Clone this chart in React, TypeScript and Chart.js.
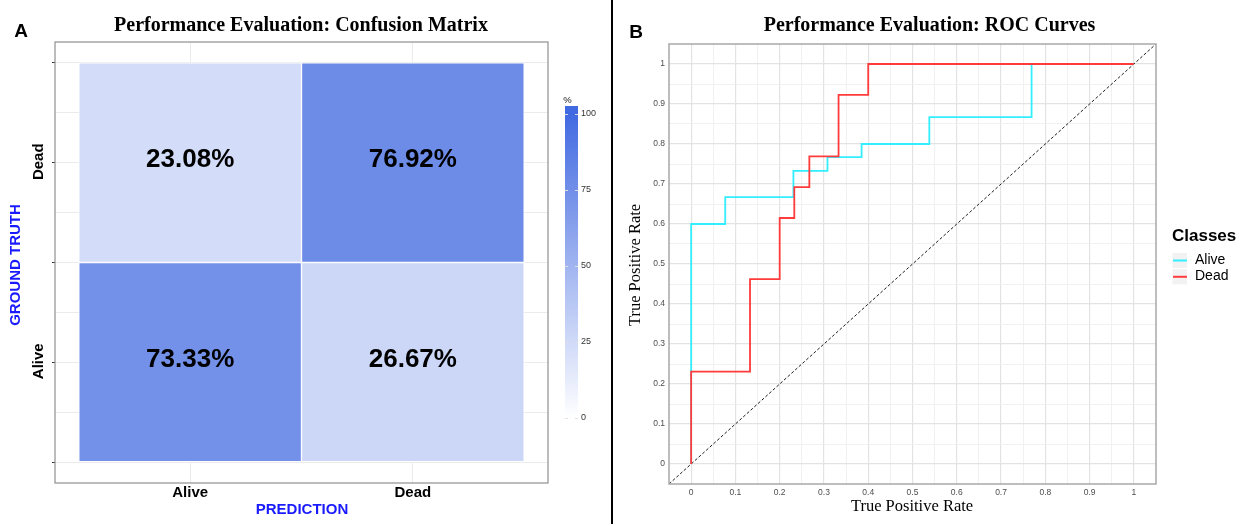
import React, { useEffect, useRef } from 'react';
import { Chart, registerables } from 'chart.js';

Chart.register(...registerables);

const SANS = '"Liberation Sans", Arial, Helvetica, sans-serif';
const SERIF = '"Liberation Serif", "Times New Roman", serif';

// ---------- Panel A: confusion matrix (row percentages) ----------
const predLabels = ['Alive', 'Dead'];
const truthLabels = ['Alive', 'Dead'];
const aliveRowPct = [73.33, 26.67];
const deadRowPct = [23.08, 76.92];
const colorbarTicks = [0, 25, 50, 75, 100];
const colorbarRange = [-1.3, 102.5];

// ---------- Panel B: ROC curves ----------
const classNames = ['Alive', 'Dead'];
const aliveFPR = [0, 0, 0.077, 0.231, 0.308, 0.385, 0.538, 0.769, 1];
const aliveTPR = [0, 0.6, 0.667, 0.733, 0.767, 0.8, 0.867, 1, 1];
const deadFPR = [0, 0, 0.133, 0.2, 0.233, 0.267, 0.333, 0.4, 1];
const deadTPR = [0, 0.231, 0.462, 0.615, 0.692, 0.769, 0.923, 1, 1];
const diagX = [-0.05, 1.05];
const diagY = [-0.05, 1.05];
const rocTicks = [0, 0.1, 0.2, 0.3, 0.4, 0.5, 0.6, 0.7, 0.8, 0.9, 1];

const LOW = [255, 255, 255];
const HIGH = [65, 105, 225];
const fillFor = (pct: number) => {
  const t = Math.max(0, Math.min(1, pct / 100));
  const c = LOW.map((l, k) => Math.round(l + (HIGH[k] - l) * t));
  return `rgb(${c.join(',')})`;
};

type TextItem = {
  text: string;
  x: number;
  y: number;
  font: string;
  color?: string;
  rot?: number;
  align?: CanvasTextAlign;
  baseline?: CanvasTextBaseline;
};

const drawTexts = (ctx: CanvasRenderingContext2D, items: TextItem[]) => {
  for (const t of items) {
    ctx.save();
    ctx.translate(t.x, t.y);
    if (t.rot) ctx.rotate(t.rot);
    ctx.font = t.font;
    ctx.fillStyle = t.color || '#000';
    ctx.textAlign = t.align || 'center';
    ctx.textBaseline = t.baseline || 'middle';
    ctx.fillText(t.text, 0, 0);
    ctx.restore();
  }
};

const approx = (a: number, b: number) => Math.abs(a - b) < 1e-6;
const isHalf = (v: number) => approx(v * 2, Math.round(v * 2));
const isMajorRoc = (v: number) => rocTicks.some((t) => approx(t, v));
const rocGrid = (() => {
  const g: number[] = [];
  rocTicks.forEach((t, i) => {
    g.push(t);
    if (i < rocTicks.length - 1) g.push((t + rocTicks[i + 1]) / 2);
  });
  return g;
})();
const matrixGrid = [0, 0.25, 0.5, 0.75, 1, 1.25, 1.5, 1.75, 2];

export default function App() {
  const cmRef = useRef<HTMLCanvasElement>(null);
  const cbRef = useRef<HTMLCanvasElement>(null);
  const rocRef = useRef<HTMLCanvasElement>(null);

  useEffect(() => {
    const charts: Chart[] = [];

    // ---------------- Confusion matrix ----------------
    const rows = [aliveRowPct, deadRowPct];
    const cmPlugin = {
      id: 'cmDecor',
      afterDatasetsDraw(chart: any) {
        const ctx = chart.ctx as CanvasRenderingContext2D;
        chart.data.datasets.forEach((ds: any, i: number) => {
          const meta = chart.getDatasetMeta(i);
          meta.data.forEach((el: any, j: number) => {
            const p = el.getProps(['x', 'y', 'base'], true);
            const v = ds.data[j].v as number;
            drawTexts(ctx, [
              {
                text: v.toFixed(2) + '%',
                x: p.x,
                y: (p.y + p.base) / 2 - 2.5,
                font: `bold 26px ${SANS}`,
              },
            ]);
          });
        });
        const a = chart.chartArea;
        ctx.save();
        ctx.strokeStyle = '#8f8f8f';
        ctx.lineWidth = 1.2;
        ctx.strokeRect(a.left, a.top, a.right - a.left, a.bottom - a.top);
        ctx.restore();
      },
      afterDraw(chart: any) {
        const ctx = chart.ctx as CanvasRenderingContext2D;
        const ys = chart.scales.y;
        const items: TextItem[] = [
          { text: 'A', x: 21, y: 31.5, font: `bold 19px ${SANS}` },
          {
            text: 'Performance Evaluation: Confusion Matrix',
            x: 301,
            y: 31,
            font: `bold 20px ${SERIF}`,
            baseline: 'alphabetic',
          },
          { text: 'PREDICTION', x: 302, y: 509.5, font: `bold 15px ${SANS}`, color: '#1a1aff' },
          {
            text: 'GROUND TRUTH',
            x: 15.5,
            y: 265,
            rot: -Math.PI / 2,
            font: `bold 15px ${SANS}`,
            color: '#1a1aff',
          },
        ];
        truthLabels.forEach((lab, i) => {
          items.push({
            text: lab,
            x: 39,
            y: ys.getPixelForValue(i + 0.5) - 1,
            rot: -Math.PI / 2,
            font: `bold 15px ${SANS}`,
          });
        });
        drawTexts(ctx, items);
      },
    };

    charts.push(
      new Chart(cmRef.current as HTMLCanvasElement, {
        type: 'bar',
        data: {
          datasets: rows.map((row, i) => ({
            label: truthLabels[i],
            data: row.map((v, j) => ({ x: j + 0.5, y: [i, i + 1], v })),
            backgroundColor: row.map(fillFor),
            borderColor: '#ffffff',
            borderWidth: 1,
            borderSkipped: false,
            barPercentage: 1,
            categoryPercentage: 1,
          })) as any,
        },
        options: {
          animation: false,
          responsive: false,
          layout: { padding: { top: 42, left: 0, right: 12, bottom: 0 } },
          plugins: {
            legend: { display: false },
            tooltip: { enabled: false },
            title: { display: false },
          },
          scales: {
            x: {
              type: 'linear',
              min: -0.107,
              max: 2.107,
              offset: false,
              stacked: true,
              afterBuildTicks: (s: any) => {
                s.ticks = predLabels.map((_, j) => ({ value: j + 0.5 }));
              },
              afterFit: (s: any) => {
                s.height = 41;
              },
              ticks: {
                autoSkip: false,
                maxRotation: 0,
                padding: 1,
                color: '#000',
                font: { family: SANS, size: 15, weight: 'bold' },
                callback: (_v: any, i: number) => predLabels[i],
              },
              grid: { color: '#ebebeb', drawTicks: false, offset: false },
              border: { display: false },
            } as any,
            y: {
              type: 'linear',
              min: -0.105,
              max: 2.105,
              stacked: false,
              afterBuildTicks: (s: any) => {
                s.ticks = matrixGrid.map((v) => ({ value: v }));
              },
              afterFit: (s: any) => {
                s.width = 55;
              },
              ticks: { display: false },
              grid: {
                color: '#ebebeb',
                tickLength: 3,
                tickColor: (c: any) => (c.tick && isHalf(c.tick.value) ? '#333333' : 'rgba(0,0,0,0)'),
              },
              border: { display: false },
            } as any,
          },
        },
        plugins: [cmPlugin],
      })
    );

    // ---------------- Colorbar ----------------
    const cbPlugin = {
      id: 'cbDecor',
      afterDatasetsDraw(chart: any) {
        const ctx = chart.ctx as CanvasRenderingContext2D;
        const a = chart.chartArea;
        const ys = chart.scales.y;
        ctx.save();
        ctx.strokeStyle = 'rgba(225,225,225,0.95)';
        ctx.lineWidth = 1;
        colorbarTicks.forEach((t) => {
          const y = Math.round(ys.getPixelForValue(t)) + 0.5;
          ctx.beginPath();
          ctx.moveTo(a.left, y);
          ctx.lineTo(a.left + 3, y);
          ctx.moveTo(a.right - 3, y);
          ctx.lineTo(a.right, y);
          ctx.stroke();
        });
        ctx.restore();
        drawTexts(ctx, [{ text: '%', x: a.left + 2.5, y: a.top - 6, font: `9.5px ${SANS}`, color: '#222' }]);
      },
    };

    charts.push(
      new Chart(cbRef.current as HTMLCanvasElement, {
        type: 'bar',
        data: {
          labels: ['%'],
          datasets: [
            {
              data: [colorbarRange] as any,
              backgroundColor: (c: any) => {
                const chart = c.chart;
                const ys = chart.scales && chart.scales.y;
                if (!ys || !chart.chartArea) return fillFor(100);
                const g = chart.ctx.createLinearGradient(
                  0,
                  ys.getPixelForValue(colorbarTicks[0]),
                  0,
                  ys.getPixelForValue(colorbarTicks[colorbarTicks.length - 1])
                );
                g.addColorStop(0, fillFor(colorbarTicks[0]));
                g.addColorStop(1, fillFor(colorbarTicks[colorbarTicks.length - 1]));
                return g;
              },
              borderWidth: 0,
              barPercentage: 1,
              categoryPercentage: 1,
            },
          ],
        },
        options: {
          animation: false,
          responsive: false,
          layout: { padding: { top: 16, left: 15, right: 0, bottom: 8 } },
          plugins: { legend: { display: false }, tooltip: { enabled: false } },
          scales: {
            x: { display: false },
            y: {
              type: 'linear',
              position: 'right',
              min: colorbarRange[0],
              max: colorbarRange[1],
              afterBuildTicks: (s: any) => {
                s.ticks = colorbarTicks.map((v) => ({ value: v }));
              },
              afterFit: (s: any) => {
                s.width = 32;
              },
              ticks: {
                padding: 3,
                color: '#333',
                font: { family: SANS, size: 9 },
                callback: (v: any) => String(v),
              },
              grid: { drawOnChartArea: false, drawTicks: false },
              border: { display: false },
            } as any,
          },
        },
        plugins: [cbPlugin],
      })
    );

    // ---------------- ROC curves ----------------
    const rocSeries = [
      { name: classNames[0], fpr: aliveFPR, tpr: aliveTPR, color: '#33eeff', order: 1 },
      { name: classNames[1], fpr: deadFPR, tpr: deadTPR, color: '#ff3b3b', order: 0 },
    ];

    const rocPlugin = {
      id: 'rocDecor',
      afterDatasetsDraw(chart: any) {
        const ctx = chart.ctx as CanvasRenderingContext2D;
        const a = chart.chartArea;
        ctx.save();
        ctx.strokeStyle = '#a8a8a8';
        ctx.lineWidth = 1.5;
        ctx.strokeRect(a.left, a.top, a.right - a.left, a.bottom - a.top);
        ctx.restore();
      },
      afterDraw(chart: any) {
        const ctx = chart.ctx as CanvasRenderingContext2D;
        const items: TextItem[] = [
          { text: 'B', x: 22, y: 32.5, font: `bold 19px ${SANS}` },
          {
            text: 'Performance Evaluation: ROC Curves',
            x: 315.5,
            y: 31,
            font: `bold 20px ${SERIF}`,
            baseline: 'alphabetic',
          },
          { text: 'True Positive Rate', x: 298, y: 510.5, font: `16.5px ${SERIF}`, baseline: 'alphabetic' },
          {
            text: 'True Positive Rate',
            x: 26,
            y: 265,
            rot: -Math.PI / 2,
            font: `16.5px ${SERIF}`,
            baseline: 'alphabetic',
          },
          { text: 'Classes', x: 558, y: 236.5, font: `bold 17px ${SANS}`, align: 'left' },
        ];
        // legend entries
        const entries = chart.data.datasets.filter((d: any) => classNames.includes(d.label));
        entries.forEach((d: any, i: number) => {
          const top = 253 + i * 16.3;
          ctx.save();
          ctx.fillStyle = '#f2f2f2';
          ctx.fillRect(558.5, top, 14.5, 15);
          ctx.strokeStyle = d.borderColor;
          ctx.lineWidth = 2;
          ctx.beginPath();
          ctx.moveTo(559, top + 7.5);
          ctx.lineTo(573, top + 7.5);
          ctx.stroke();
          ctx.restore();
          items.push({ text: d.label, x: 581, y: top + 7, font: `14px ${SANS}`, align: 'left' });
        });
        drawTexts(ctx, items);
      },
    };

    const rocAxis = (isX: boolean) =>
      ({
        type: 'linear',
        min: -0.05,
        max: 1.05,
        afterBuildTicks: (s: any) => {
          s.ticks = rocGrid.map((v) => ({ value: v }));
        },
        afterFit: (s: any) => {
          if (isX) s.height = 40;
          else s.width = 55;
        },
        ticks: {
          autoSkip: false,
          maxRotation: 0,
          padding: 4,
          color: '#4d4d4d',
          font: { family: SANS, size: 8.5 },
          callback: (v: any) => (isMajorRoc(v) ? String(Math.round(v * 10) / 10) : ''),
        },
        grid: {
          drawTicks: false,
          color: (c: any) => (c.tick && isMajorRoc(c.tick.value) ? '#e3e3e3' : '#efefef'),
          lineWidth: (c: any) => (c.tick && isMajorRoc(c.tick.value) ? 1.2 : 0.9),
        },
        border: { display: false },
      } as any);

    charts.push(
      new Chart(rocRef.current as HTMLCanvasElement, {
        type: 'line',
        data: {
          datasets: [
            ...rocSeries.map((s) => ({
              label: s.name,
              data: s.fpr.map((x, i) => ({ x, y: s.tpr[i] })),
              borderColor: s.color,
              backgroundColor: s.color,
              borderWidth: 1.8,
              pointRadius: 0,
              stepped: 'before',
              fill: false,
              order: s.order,
            })),
            {
              label: 'reference',
              data: diagX.map((x, i) => ({ x, y: diagY[i] })),
              borderColor: '#1e1e1e',
              borderWidth: 1,
              borderDash: [3, 2],
              pointRadius: 0,
              fill: false,
              order: 2,
            },
          ] as any,
        },
        options: {
          animation: false,
          responsive: false,
          layout: { padding: { top: 44, left: 0, right: 91, bottom: 0 } },
          plugins: { legend: { display: false }, tooltip: { enabled: false } },
          scales: { x: rocAxis(true), y: rocAxis(false) },
        },
        plugins: [rocPlugin],
      })
    );

    return () => {
      charts.forEach((c) => c.destroy());
    };
  }, []);

  return (
    <div
      style={{
        position: 'absolute',
        left: 0,
        top: 0,
        width: 1247,
        height: 524,
        background: '#ffffff',
        overflow: 'hidden',
      }}
    >
      <canvas ref={cmRef} width={560} height={524} style={{ position: 'absolute', left: 0, top: 0 }} />
      <canvas ref={cbRef} width={60} height={340} style={{ position: 'absolute', left: 550, top: 90 }} />
      <div
        style={{ position: 'absolute', left: 611, top: 0, width: 2, height: 524, background: '#000' }}
      />
      <canvas ref={rocRef} width={633} height={524} style={{ position: 'absolute', left: 614, top: 0 }} />
    </div>
  );
}
